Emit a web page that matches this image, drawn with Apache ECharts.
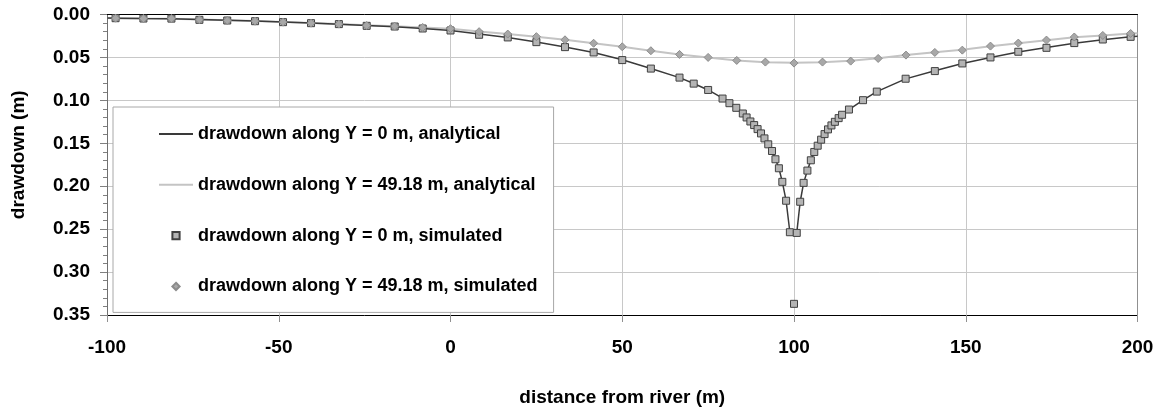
<!DOCTYPE html>
<html>
<head>
<meta charset="utf-8">
<script src="https://cdn.jsdelivr.net/npm/echarts@6/dist/echarts.min.js"></script>
<style>
html,body{margin:0;padding:0;background:#fff;}
#chart{width:1161px;height:412px;}
</style>
</head>
<body>
<div id="chart"></div>
<script>
// ---- data (distance from river in m, drawdown in m) ----
const seriesNames = [
  'drawdown along Y = 0 m, analytical',
  'drawdown along Y = 49.18 m, analytical',
  'drawdown along Y = 0 m, simulated',
  'drawdown along Y = 49.18 m, simulated'
];

const xSim0 = [-97.5, -89.4, -81.25, -73.1, -65, -56.9, -48.75, -40.6, -32.5, -24.4, -16.25, -8.1, 0,
  8.33, 16.67, 25, 33.33, 41.67, 50, 58.33, 66.67, 70.8, 75, 79.2, 81.2, 83.2, 85.1, 86.2, 87.3,
  88.4, 89.4, 90.4, 91.4, 92.5, 93.6, 94.6, 95.6, 96.6, 97.7, 98.8, 100, 100.8, 101.8, 102.8,
  103.9, 104.9, 105.9, 106.9, 107.9, 108.9, 109.9, 110.9, 111.9, 113.0, 114.0, 116.0, 120.1,
  124.1, 132.5, 141, 149, 157.2, 165.3, 173.5, 181.6, 189.9, 198];
const dSim0 = [0.0043, 0.0047, 0.0048, 0.0062, 0.0070, 0.0078, 0.0089, 0.0101, 0.0112, 0.0132, 0.0140, 0.0163, 0.0186,
  0.0236, 0.0267, 0.0322, 0.0380, 0.0442, 0.0531, 0.0630, 0.0735, 0.0805, 0.0879, 0.0979, 0.1033, 0.1087, 0.1153, 0.1199, 0.1246,
  0.1288, 0.1335, 0.1385, 0.1443, 0.1512, 0.1590, 0.1686, 0.1791, 0.1949, 0.2169, 0.2536, 0.3370, 0.2544, 0.2181, 0.1961,
  0.1818, 0.1698, 0.1601, 0.1528, 0.1458, 0.1393, 0.1338, 0.1292, 0.1250, 0.1207, 0.1168, 0.1107, 0.0998,
  0.0898, 0.0748, 0.0659, 0.0570, 0.0500, 0.0434, 0.0388, 0.0333, 0.0291, 0.0260];

const xSim49 = [-97.5, -89.4, -81.25, -73.1, -65, -56.9, -48.75, -40.6, -32.5, -24.4, -16.25, -8.1, 0,
  8.33, 16.67, 25, 33.33, 41.67, 50, 58.33, 66.67, 75, 83.33, 91.67, 100, 108.3, 116.5, 124.5,
  132.6, 141, 149, 157.2, 165.3, 173.5, 181.6, 189.9, 198];
const dSim49 = [0.0043, 0.0047, 0.0047, 0.0062, 0.0070, 0.0078, 0.0089, 0.0101, 0.0112, 0.0128, 0.0136, 0.0151, 0.0165,
  0.0200, 0.0228, 0.0258, 0.0295, 0.0335, 0.0376, 0.0422, 0.0465, 0.0500, 0.0535, 0.0554, 0.0566, 0.0554, 0.0543, 0.0512,
  0.0473, 0.0442, 0.0415, 0.0368, 0.0333, 0.0298, 0.0262, 0.0244, 0.0221];

const xAna0 = [-100, -97.5, -89.4, -81.25, -73.1, -65, -56.9, -48.75, -40.6, -32.5, -24.4, -16.25, -8.1, 0,
  8.33, 16.67, 25, 33.33, 41.67, 50, 58.33, 66.67, 70.8, 75, 79.2, 81.2, 83.2, 85.1, 86.2, 87.3,
  88.4, 89.4, 90.4, 91.4, 92.5, 93.6, 94.6, 95.6, 96.6, 97.7, 98.8, 100.8, 101.8, 102.8,
  103.9, 104.9, 105.9, 106.9, 107.9, 108.9, 109.9, 110.9, 111.9, 113.0, 114.0, 116.0, 120.1,
  124.1, 132.5, 141, 149, 157.2, 165.3, 173.5, 181.6, 189.9, 198, 200];
const dAna0 = [0.0042, 0.0043, 0.0047, 0.0050, 0.0058, 0.0067, 0.0077, 0.0088, 0.0100, 0.0113, 0.0127, 0.0142, 0.0162, 0.0186,
  0.0228, 0.0268, 0.0320, 0.0378, 0.0442, 0.0527, 0.0628, 0.0735, 0.0803, 0.0879, 0.0975, 0.1030, 0.1087, 0.1150, 0.1197, 0.1244,
  0.1288, 0.1335, 0.1385, 0.1443, 0.1512, 0.1590, 0.1686, 0.1791, 0.1949, 0.2169, 0.2536, 0.2544, 0.2181, 0.1961,
  0.1818, 0.1698, 0.1601, 0.1528, 0.1458, 0.1393, 0.1338, 0.1292, 0.1250, 0.1207, 0.1168, 0.1107, 0.0998,
  0.0898, 0.0750, 0.0655, 0.0570, 0.0500, 0.0436, 0.0385, 0.0335, 0.0293, 0.0260, 0.0254];

const xAna49 = [-100, -97.5, -89.4, -81.25, -73.1, -65, -56.9, -48.75, -40.6, -32.5, -24.4, -16.25, -8.1, 0,
  8.33, 16.67, 25, 33.33, 41.67, 50, 58.33, 66.67, 75, 83.33, 91.67, 100, 108.3, 116.5, 124.5,
  132.6, 141, 149, 157.2, 165.3, 173.5, 181.6, 189.9, 198, 200];
const dAna49 = [0.0042, 0.0043, 0.0047, 0.0050, 0.0058, 0.0067, 0.0077, 0.0088, 0.0100, 0.0112, 0.0125, 0.0137, 0.0150, 0.0165,
  0.0198, 0.0227, 0.0258, 0.0295, 0.0335, 0.0376, 0.0422, 0.0465, 0.0502, 0.0535, 0.0556, 0.0563, 0.0556, 0.0540, 0.0510,
  0.0473, 0.0440, 0.0410, 0.0370, 0.0335, 0.0300, 0.0266, 0.0244, 0.0222, 0.0218];

const xTickValues = [-100, -50, 0, 50, 100, 150, 200];
const yTickValues = [0.00, 0.05, 0.10, 0.15, 0.20, 0.25, 0.30, 0.35];

// ---- chart ----
const FONT = "'Liberation Sans', Arial, sans-serif";
const pairs = (xs, ys) => xs.map((x, i) => [x, ys[i]]);

const chart = echarts.init(document.getElementById('chart'), null, {renderer: 'canvas'});
const axisFont = {fontFamily: FONT, fontSize: 19, fontWeight: 'bold', color: '#000'};

chart.setOption({
  animation: false,
  backgroundColor: '#fff',
  grid: {left: 107, right: 23.5, top: 14.5, bottom: 96.3, containLabel: false},
  xAxis: [{
    type: 'value', position: 'bottom',
    min: xTickValues[0], max: xTickValues[xTickValues.length - 1], interval: 50,
    name: 'distance from river (m)', nameLocation: 'middle', nameGap: 73,
    nameTextStyle: axisFont,
    axisLine: {show: true, onZero: false, lineStyle: {color: '#000', width: 1}},
    axisTick: {show: true, length: 7, lineStyle: {color: '#909090'}},
    axisLabel: Object.assign({margin: 23}, axisFont),
    splitLine: {show: true, lineStyle: {color: '#c8c8c8', width: 1}}
  }, {
    type: 'value', position: 'top',
    min: xTickValues[0], max: xTickValues[xTickValues.length - 1], interval: 50,
    axisLine: {show: true, onZero: false, lineStyle: {color: '#000', width: 1}},
    axisTick: {show: false}, axisLabel: {show: false}, splitLine: {show: false}
  }],
  yAxis: [{
    type: 'value', inverse: true, position: 'left',
    min: yTickValues[0], max: yTickValues[yTickValues.length - 1], interval: 0.05,
    name: 'drawdown (m)', nameLocation: 'middle', nameGap: 79, nameRotate: 90,
    nameTextStyle: Object.assign({padding: [0, 0, 0, 20]}, axisFont),
    axisLine: {show: true, onZero: false, lineStyle: {color: '#707070', width: 1}},
    axisTick: {show: true, length: 7, lineStyle: {color: '#808080'}},
    minorTick: {show: true, splitNumber: 5, length: 4, lineStyle: {color: '#808080'}},
    axisLabel: Object.assign({margin: 17, formatter: v => v.toFixed(2)}, axisFont),
    splitLine: {show: true, lineStyle: {color: '#c8c8c8', width: 1}}
  }, {
    type: 'value', inverse: true, position: 'right',
    min: yTickValues[0], max: yTickValues[yTickValues.length - 1], interval: 0.05,
    axisLine: {show: true, onZero: false, lineStyle: {color: '#909090', width: 1}},
    axisTick: {show: false}, axisLabel: {show: false}, splitLine: {show: false}
  }],
  legend: {
    orient: 'vertical', left: 113, top: 107,
    backgroundColor: '#fff', borderColor: '#a8a8a8', borderWidth: 1, borderRadius: 0,
    padding: [18, 16, 17, 45], itemGap: 32.8, itemWidth: 34, itemHeight: 9,
    textStyle: {fontFamily: FONT, fontSize: 18, fontWeight: 'bold', color: '#000', lineHeight: 18},
    data: [
      {name: seriesNames[0], itemStyle: {opacity: 0}},
      {name: seriesNames[1], itemStyle: {opacity: 0}},
      {name: seriesNames[2], lineStyle: {width: 0, opacity: 0}},
      {name: seriesNames[3], lineStyle: {width: 0, opacity: 0}}
    ]
  },
  series: [{
    name: seriesNames[1], type: 'line', data: pairs(xAna49, dAna49),
    symbol: 'none', showSymbol: false,
    lineStyle: {color: '#c4c4c4', width: 2}, itemStyle: {color: '#c4c4c4'}, z: 2
  }, {
    name: seriesNames[0], type: 'line', data: pairs(xAna0, dAna0),
    symbol: 'none', showSymbol: false,
    lineStyle: {color: '#3a3a3a', width: 1.5}, itemStyle: {color: '#3a3a3a'}, z: 3
  }, {
    name: seriesNames[2], type: 'line', data: pairs(xSim0, dSim0),
    symbol: 'rect', symbolSize: 7, showSymbol: true, showAllSymbol: true,
    lineStyle: {width: 0, opacity: 0},
    itemStyle: {color: '#b4b4b4', borderColor: '#404040', borderWidth: 1}, z: 4
  }, {
    name: seriesNames[3], type: 'line', data: pairs(xSim49, dSim49),
    symbol: 'diamond', symbolSize: 8, showSymbol: true, showAllSymbol: true,
    lineStyle: {width: 0, opacity: 0},
    itemStyle: {color: '#a8a8a8', borderColor: '#8c8c8c', borderWidth: 1}, z: 5
  }]
});
</script>
</body>
</html>
